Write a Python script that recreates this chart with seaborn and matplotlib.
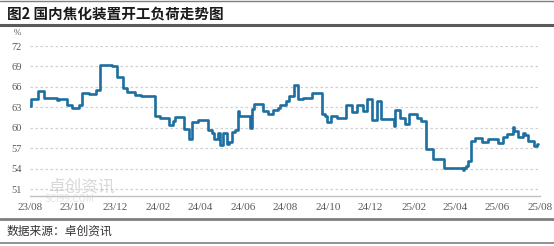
import numpy as np
import pandas as pd
import matplotlib
matplotlib.use("Agg")
import matplotlib.pyplot as plt
import matplotlib.dates as mdates
from matplotlib.lines import Line2D
import seaborn as sns

# ---- data (step breakpoints: days after 2023-08-01, load %) ----
start_date = "2023-08-01"
day_offsets = [0, 1, 12, 20, 39, 42, 53, 60, 70, 75, 85, 94, 100, 118, 125, 133, 139,
               150, 159, 179, 186, 199, 205, 208, 221, 228, 232, 241, 255, 261, 264,
               269, 272, 277, 282, 285, 289, 294, 298, 300, 315, 318, 321, 334, 341,
               348, 355, 358, 367, 371, 378, 384, 391, 404, 418, 423, 426, 431, 440,
               453, 461, 469, 477, 483, 490, 497, 503, 522, 523, 530, 537, 543, 555,
               560, 567, 578, 593, 620, 622, 625, 628, 632, 638, 648, 656, 671, 678,
               684, 692, 694, 699, 706, 709, 714, 722, 727, 728]
load_values = [63.2, 64.3, 65.4, 64.4, 64.1, 64.3, 63.4, 62.9, 63.3, 65.1, 64.9, 65.6, 69.2,
               69.1, 67.5, 65.9, 65.2, 64.8, 64.6, 61.7, 61.4, 60.4, 61.0, 61.6, 59.8,
               58.4, 60.8, 61.2, 59.7, 59.3, 58.4, 59.3, 57.5, 59.3, 57.7, 57.9, 59.4,
               59.7, 62.5, 61.8, 60.0, 62.8, 63.5, 62.5, 62.0, 62.6, 62.9, 63.3, 64.0,
               64.6, 66.3, 64.2, 64.4, 65.1, 62.1, 61.8, 60.8, 61.8, 61.4, 63.3, 62.3,
               63.4, 62.4, 64.2, 61.2, 64.0, 61.3, 60.2, 62.6, 61.5, 60.5, 62.1, 61.5,
               61.0, 56.9, 55.4, 54.1, 53.8, 54.1, 54.4, 55.2, 58.1, 58.5, 57.9, 58.3,
               57.8, 58.7, 59.1, 60.1, 59.5, 58.6, 59.3, 58.9, 58.0, 57.4, 57.6, 57.6]
y_ticks = [51, 54, 57, 60, 63, 66, 69, 72]
x_tick_labels = ["23/08", "23/10", "23/12", "24/02", "24/04", "24/06", "24/08",
                 "24/10", "24/12", "25/02", "25/04", "25/06", "25/08"]
title_text = "图2 国内焦化装置开工负荷走势图"
source_text = "数据来源：卓创资讯"
unit_text = "%"

dates = pd.Timestamp(start_date) + pd.to_timedelta(day_offsets, unit="D")
df = pd.DataFrame({"date": dates, "value": load_values})

sns.set_theme(style="white")
plt.rcParams["font.family"] = ["Noto Sans CJK SC", "DejaVu Sans"]

W, H = 554, 246
fig = plt.figure(figsize=(W / 100, H / 100), dpi=100)
ax = fig.add_axes([30 / W, 1 - 196 / H, (540 - 30) / W, (196 - 46) / H])

sns.lineplot(data=df, x="date", y="value", ax=ax, color="#1c6fa0",
             linewidth=1.9, drawstyle="steps-post")

tick_dates = pd.date_range("2023-08-01", periods=len(x_tick_labels), freq="2MS")
ax.set_xticks(tick_dates)
ax.set_xticklabels(x_tick_labels)
ax.set_xlim(pd.Timestamp("2023-08-01"), pd.Timestamp("2025-08-01"))
ax.set_ylim(50, 72)
ax.set_yticks(y_ticks)
ax.set_xlabel("")
ax.set_ylabel("")

for yv in y_ticks:
    ax.axhline(yv, color="#d0d0d0", linewidth=0.9, linestyle=(0, (2, 2)), zorder=0)

for s in ["top", "right", "left"]:
    ax.spines[s].set_visible(False)
ax.spines["bottom"].set_color("#bfbfbf")
ax.spines["bottom"].set_linewidth(1.0)
ax.tick_params(axis="x", length=3, width=0.8, color="#bfbfbf", pad=2,
               labelsize=8, labelcolor="#595959")
ax.tick_params(axis="y", length=0, pad=6, labelsize=7.5, labelcolor="#595959")
for lab in ax.get_xticklabels() + ax.get_yticklabels():
    lab.set_fontfamily(["Liberation Serif", "DejaVu Serif"])

# watermark
fig.text(48 / W, 1 - 187 / H, "卓创资讯", fontsize=12, color="#c8c8c8",
         ha="left", va="center", alpha=0.7, zorder=0)
fig.text(45 / W, 1 - 199 / H, "SCI99.COM", fontsize=7, color="#d0d0d0",
         ha="left", va="center", alpha=0.6, zorder=0)

# title & frame
fig.text(7 / W, 1 - 13 / H, title_text, fontsize=10.5, fontweight="bold",
         color="#1a1a1a", ha="left", va="center")
fig.text(14 / W, 1 - 33 / H, unit_text, fontsize=6.5, color="#595959",
         ha="left", va="center", family=["Liberation Serif", "DejaVu Serif"])
fig.text(7 / W, 1 - 231 / H, source_text, fontsize=8.5, color="#333333",
         ha="left", va="center")

fig.add_artist(Line2D([0, 1], [1 - 1 / H, 1 - 1 / H], color="#7f7f7f", linewidth=1.0))
fig.add_artist(Line2D([0, 1], [1 - 25 / H, 1 - 25 / H], color="#5a5a5a", linewidth=2.2))
fig.add_artist(Line2D([0, 1], [1 - 219 / H, 1 - 219 / H], color="#7f7f7f", linewidth=2.0))
fig.add_artist(Line2D([0, 1], [1 - 243 / H, 1 - 243 / H], color="#7f7f7f", linewidth=1.2))

fig.savefig("out.png", dpi=100)
